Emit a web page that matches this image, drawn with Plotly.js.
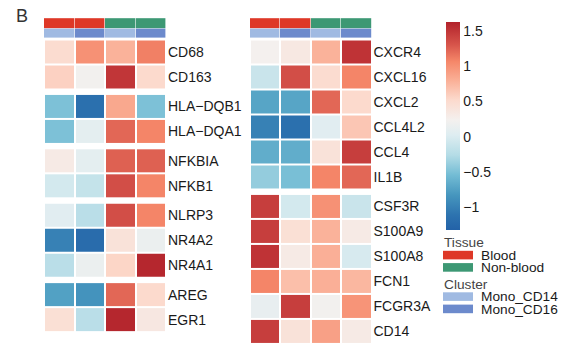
<!DOCTYPE html>
<html>
<head>
<meta charset="utf-8">
<script src="https://cdn.plot.ly/plotly-3.0.1.min.js"></script>
<style>html,body{margin:0;padding:0;background:#fff;}#chart{width:580px;height:360px;}</style>
</head>
<body>
<div id="chart"></div>
<script>
// ---------- data ----------
const tissue = ['Blood', 'Blood', 'Non-blood', 'Non-blood'];
const cluster = ['Mono_CD14', 'Mono_CD16', 'Mono_CD14', 'Mono_CD16'];
const tissueLevels = ['Blood', 'Non-blood'];
const clusterLevels = ['Mono_CD14', 'Mono_CD16'];

const leftGenes = ['CD68', 'CD163', 'HLA\u2212DQB1', 'HLA\u2212DQA1', 'NFKBIA', 'NFKB1',
  'NLRP3', 'NR4A2', 'NR4A1', 'AREG', 'EGR1'];
const leftGroupSizes = [2, 2, 2, 3, 2];
const leftValues = [
  [0.50, 1.00, 0.78, 1.10],
  [0.58, 0.22, 1.50, 0.52],
  [-0.50, -1.15, 0.85, -0.50],
  [-0.50, 0.08, 1.22, 1.08],
  [0.32, 0.08, 1.25, 1.25],
  [-0.05, -0.15, 1.35, 1.08],
  [0.05, -0.22, 1.35, 1.08],
  [-1.00, -1.20, 0.42, 0.15],
  [-0.22, 0.15, 0.55, 1.60],
  [-0.75, -0.85, 1.22, 0.52],
  [0.45, -0.22, 1.60, 0.35]
];

const rightGenes = ['CXCR4', 'CXCL16', 'CXCL2', 'CCL4L2', 'CCL4', 'IL1B',
  'CSF3R', 'S100A9', 'S100A8', 'FCN1', 'FCGR3A', 'CD14'];
const rightGroupSizes = [6, 6];
const rightValues = [
  [0.24, 0.34, 0.78, 1.52],
  [-0.12, 1.35, 0.50, 1.08],
  [-0.72, -0.72, 1.22, 0.52],
  [-1.00, -1.15, 0.05, 0.65],
  [-0.66, -0.66, 0.42, 1.45],
  [-0.40, -0.52, 1.08, 1.22],
  [1.45, -0.05, 1.00, -0.12],
  [1.45, 0.45, 0.78, 0.32],
  [1.52, 0.32, 0.80, -0.02],
  [1.08, 0.70, 0.80, 0.75],
  [0.12, 1.45, 0.22, 0.98],
  [1.45, 0.42, 0.90, 0.32]
];

const zMin = -1.325, zMax = 1.63;
const cbTicks = [1.5, 1, 0.5, 0, -0.5, -1];
const cbTickText = ['1.5', '1', '0.5', '0', '\u22120.5', '\u22121'];

// ---------- styling ----------
const W = 580, H = 360;
const FONT = 'Liberation Sans, Arial, Helvetica, sans-serif';
const tissueColors = {'Blood': '#de3827', 'Non-blood': '#3d9874'};
const clusterColors = {'Mono_CD14': '#a0bae2', 'Mono_CD16': '#6c8acc'};
const colorscale = [
  [0, '#2362a8'], [0.072, '#2d73af'], [0.168, '#4696be'], [0.264, '#73bcd4'],
  [0.36, '#b4dce6'], [0.457, '#deedf1'], [0.53, '#f4f0ee'], [0.625, '#fcdacd'],
  [0.72, '#faaf96'], [0.81, '#f58769'], [0.89, '#d7554b'], [1, '#b2222b']
];

// pixel layout helpers (row unit = 25 px, rows start at pixel 39.5)
const ROW = 25, TOP = 39.5, GAP = 4.4;
const u = p => (p - TOP) / ROW;
const yRange = [u(H), u(0)];

const traces = [];
function panel(genes, values, groupSizes, xa, ya) {
  const centers = [];
  let idx = 0;
  groupSizes.forEach((n, g) => {
    const ys = [], zs = [];
    for (let k = 0; k < n; k++) {
      const c = idx + 0.5 + g * GAP / ROW;
      ys.push(c); zs.push(values[idx]); centers.push(c); idx++;
    }
    traces.push({
      type: 'heatmap', x: [0, 1, 2, 3], y: ys, z: zs,
      coloraxis: 'coloraxis', xgap: 2, ygap: 2, xaxis: xa, yaxis: ya,
      hoverinfo: 'z'
    });
  });
  // column annotation bars
  const tz = [tissue.map(t => tissueLevels.indexOf(t))];
  traces.push({
    type: 'heatmap', x: [-0.5, 0.5, 1.5, 2.5, 3.5], y: [u(18.2), u(27.7)], z: tz,
    zmin: 0, zmax: 1, showscale: false, xgap: 0.6,
    colorscale: [[0, tissueColors['Blood']], [0.5, tissueColors['Blood']], [0.5, tissueColors['Non-blood']], [1, tissueColors['Non-blood']]],
    xaxis: xa, yaxis: ya, hoverinfo: 'skip'
  });
  const cz = [cluster.map(c => clusterLevels.indexOf(c))];
  traces.push({
    type: 'heatmap', x: [-0.5, 0.5, 1.5, 2.5, 3.5], y: [u(28.6), u(37.6)], z: cz,
    zmin: 0, zmax: 1, showscale: false, xgap: 0.6,
    colorscale: [[0, clusterColors['Mono_CD14']], [0.5, clusterColors['Mono_CD14']], [0.5, clusterColors['Mono_CD16']], [1, clusterColors['Mono_CD16']]],
    xaxis: xa, yaxis: ya, hoverinfo: 'skip'
  });
  return centers;
}

const leftCenters = panel(leftGenes, leftValues, leftGroupSizes, 'x', 'y');
const rightCenters = panel(rightGenes, rightValues, rightGroupSizes, 'x2', 'y2');

const xBase = {range: [-0.5, 3.5], showgrid: false, zeroline: false, showticklabels: false, ticks: '', showline: false, fixedrange: true};
const yBase = {range: yRange, domain: [0, 1], showgrid: false, zeroline: false, ticks: '', side: 'right', showline: false,
  tickfont: {family: FONT, size: 14, color: '#1a1a1a'}, ticklabelstandoff: 1, fixedrange: true};

// legend (Tissue / Cluster) as paper-space keys
const shapes = [], annotations = [];
function legendBlock(title, levels, colors, titleY, firstKeyTop) {
  annotations.push({text: title, x: 442 / W, y: 1 - titleY / H, xref: 'paper', yref: 'paper',
    xanchor: 'left', yanchor: 'middle', showarrow: false, font: {family: FONT, size: 13.7, color: '#444'}});
  levels.forEach((lv, i) => {
    const top = firstKeyTop + i * 12.3;
    shapes.push({type: 'rect', xref: 'paper', yref: 'paper', x0: 443 / W, x1: 473 / W,
      y0: 1 - (top + 8.6) / H, y1: 1 - top / H, fillcolor: colors[lv], line: {width: 0}});
    annotations.push({text: lv, x: 479 / W, y: 1 - (top + 4.6) / H, xref: 'paper', yref: 'paper',
      xanchor: 'left', yanchor: 'middle', showarrow: false, font: {family: FONT, size: 13.7, color: '#1a1a1a'}});
  });
}
legendBlock('Tissue', tissueLevels, tissueColors, 242, 250.8);
legendBlock('Cluster', clusterLevels, clusterColors, 284.5, 292.3);

annotations.push({text: 'B', x: 14 / W, y: 1 - 16 / H, xref: 'paper', yref: 'paper', xanchor: 'left', yanchor: 'middle',
  showarrow: false, font: {family: FONT, size: 18, color: '#333'}});

const layout = {
  width: W, height: H, margin: {l: 0, r: 0, t: 0, b: 0},
  paper_bgcolor: '#fff', plot_bgcolor: '#fff', showlegend: false,
  font: {family: FONT},
  xaxis: Object.assign({}, xBase, {domain: [44 / W, 166 / W], anchor: 'y'}),
  yaxis: Object.assign({}, yBase, {anchor: 'x', tickvals: leftCenters, ticktext: leftGenes}),
  xaxis2: Object.assign({}, xBase, {domain: [250 / W, 371.5 / W], anchor: 'y2'}),
  yaxis2: Object.assign({}, yBase, {anchor: 'x2', tickvals: rightCenters, ticktext: rightGenes}),
  coloraxis: {
    cmin: zMin, cmax: zMax, colorscale: colorscale,
    colorbar: {
      x: 446 / W, xanchor: 'left', xpad: 0, y: 1 - 126 / H, yanchor: 'middle', ypad: 0,
      len: 208, lenmode: 'pixels', thickness: 14, thicknessmode: 'pixels',
      outlinewidth: 0, ticks: '', tickvals: cbTicks, ticktext: cbTickText,
      tickfont: {family: FONT, size: 14, color: '#1a1a1a'}, ticklabelstandoff: 4
    }
  },
  shapes: shapes, annotations: annotations
};

Plotly.newPlot('chart', traces, layout, {displayModeBar: false, staticPlot: true});
</script>
</body>
</html>
